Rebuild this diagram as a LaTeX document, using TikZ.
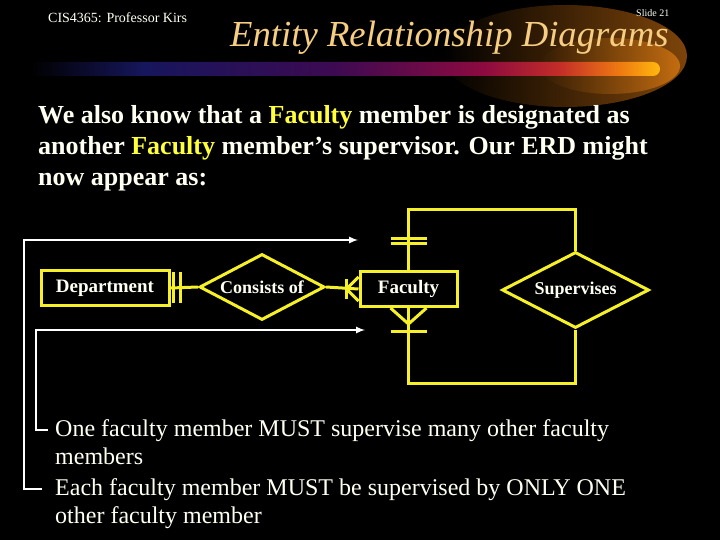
\documentclass[tikz,border=0pt]{standalone}
\usepackage{fontspec}
\setmainfont{Liberation Serif}
\usetikzlibrary{shapes.geometric}

\definecolor{erdyellow}{RGB}{245,240,40}
\definecolor{hiyellow}{RGB}{255,255,60}
\definecolor{titlegold}{RGB}{246,206,130}
\definecolor{cream}{RGB}{255,255,242}
\definecolor{glowa}{RGB}{125,68,10}
\definecolor{glowc}{RGB}{195,108,16}
\definecolor{barnavy}{RGB}{22,22,92}
\definecolor{barpurple}{RGB}{60,10,82}
\definecolor{barcrimson}{RGB}{140,10,64}
\definecolor{barred}{RGB}{195,45,40}
\definecolor{barorange}{RGB}{240,125,16}
\definecolor{baryellow}{RGB}{255,185,16}

% title bar, dark blue to yellow
\pgfdeclarehorizontalshading{barshade}{100bp}{color(0bp)=(black); color(25bp)=(black);
  color(34bp)=(barnavy); color(49bp)=(barpurple); color(61bp)=(barcrimson);
  color(67bp)=(barred); color(72bp)=(barorange); color(75bp)=(baryellow); color(100bp)=(baryellow)}

\begin{document}
\begin{tikzpicture}[x=1pt, y=-1pt,
  entity/.style={rectangle, draw=erdyellow, line width=3pt, text=cream, minimum height=35pt, inner sep=0pt, font=\fontsize{19}{22}\selectfont\bfseries},
  rel/.style={diamond, draw=erdyellow, line width=3pt, text=cream, inner sep=0pt, aspect=2, font=\fontsize{18}{21}\selectfont\bfseries},
  link/.style={draw=erdyellow, line width=3pt},
  pointer/.style={-latex, draw=white, line width=2pt},
  body/.style={anchor=base west, inner sep=0pt, text=cream, font=\fontsize{26}{31}\selectfont\bfseries},
  note/.style={anchor=base west, inner sep=0pt, text=cream, font=\fontsize{24}{29}\selectfont}
]
  \useasboundingbox (0,0) rectangle (720,540);
  \fill[black] (0,0) rectangle (720,540);

  % header glow and bar
  \shade[left color=black, right color=glowa] (565,56) ellipse [x radius=122, y radius=51];
  \shade[left color=glowa!40!black, right color=glowc] (610,66) ellipse [x radius=70, y radius=28];
  \shade[shading=barshade, rounded corners=7pt] (30,62) rectangle (660,76);

  \node[anchor=base west, inner sep=0pt, text=cream, font=\fontsize{14}{16}\selectfont] (course) at (48,23) {CIS4365: Professor Kirs};
  \node[anchor=base west, inner sep=0pt, text=cream, font=\fontsize{10}{12}\selectfont] (slideno) at (636,17) {Slide 21};
  \node[anchor=base west, inner sep=0pt, text=titlegold, font=\fontsize{36.7}{40}\selectfont\itshape] (title) at (230,47) {Entity Relationship Diagrams};

  \node[body] (introa) at (38,124) {We also know that a \textcolor{hiyellow}{Faculty} member is designated as};
  \node[body] (introb) at (38,155) {another \textcolor{hiyellow}{Faculty} member’s supervisor. Our ERD might};
  \node[body] (introc) at (38,186) {now appear as:};

  % ERD
  \node[entity, minimum width=128pt] (dept) at (105,288) {Department};
  \node[rel, minimum width=125pt, minimum height=66pt] (consists) at (262,287) {Consists of};
  \node[entity, minimum width=97pt] (faculty) at (408.5,289) {Faculty};
  \node[rel, minimum width=147pt, minimum height=76pt] (supervises) at (575.5,290) {Supervises};
  \coordinate (looptop) at (0,210);
  \coordinate (loopbot) at (0,383);

  \draw[link] (dept.east) -- (consists.west);
  \draw[link] ([shift={(3,-16)}]dept.east) -- ++(0,31);
  \draw[link] ([shift={(10,-16)}]dept.east) -- ++(0,31);
  \draw[link] (consists.east) -- (faculty.west);
  \draw[link] ([shift={(-12,-10)}]faculty.west) -- ++(0,20);
  \draw[link] ([shift={(0,-12)}]faculty.west) -- ([xshift=-12pt]faculty.west) -- ([shift={(0,12)}]faculty.west);

  \draw[link] (faculty.north) -- (faculty.north |- looptop) -| (supervises.north);
  \draw[link] ([shift={(-18,-32)}]faculty.north) -- ++(36,0);
  \draw[link] ([shift={(-18,-27)}]faculty.north) -- ++(36,0);
  \draw[link] (faculty.south) -- (faculty.south |- loopbot) -| (supervises.south);
  \draw[link] ([xshift=-18pt]faculty.south) -- ([shift={(0,16)}]faculty.south) -- ([xshift=18pt]faculty.south);
  \draw[link] ([shift={(-18,23)}]faculty.south) -- ++(36,0);

  % rules
  \node[note] (ruleonea) at (55,436) {One faculty member MUST supervise many other faculty};
  \node[note] (ruleoneb) at (55,464) {members};
  \node[note] (ruletwoa) at (55,495) {Each faculty member MUST be supervised by ONLY ONE};
  \node[note] (ruletwob) at (55,523) {other faculty member};
  \coordinate (arrowone) at (358,240);
  \coordinate (arrowtwo) at (365,330);

  \draw[pointer] ([xshift=-7pt]ruleonea.west) -- ++(-12,0) |- (arrowtwo);
  \draw[pointer] ([xshift=-13pt]ruletwoa.west) -- ++(-18,0) |- (arrowone);
\end{tikzpicture}
\end{document}
